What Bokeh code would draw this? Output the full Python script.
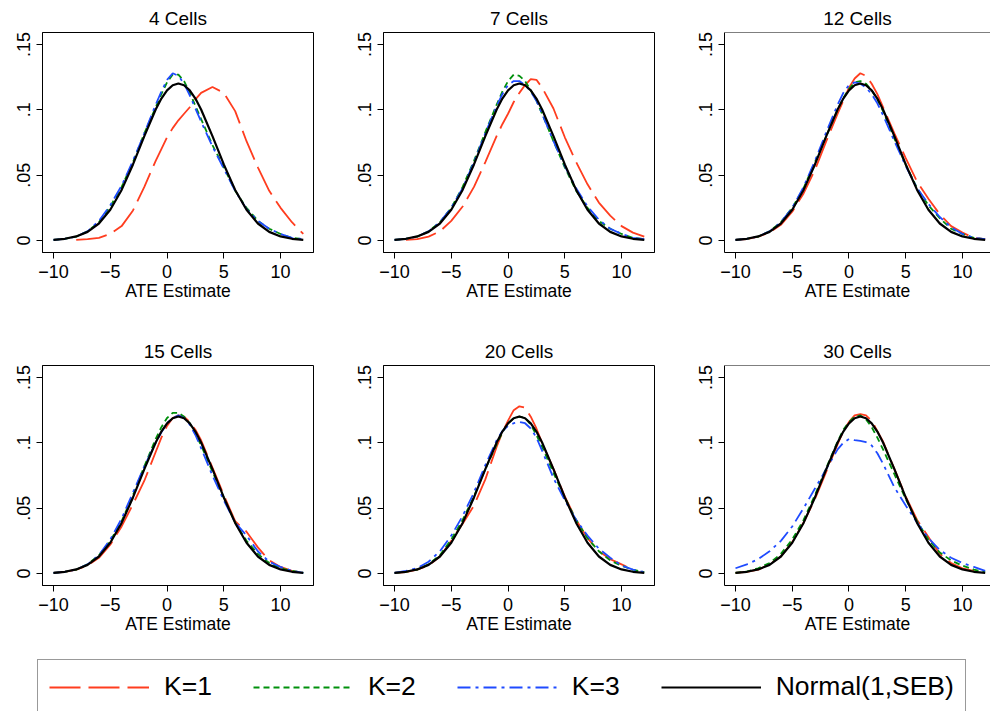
from bokeh.plotting import figure
from bokeh.layouts import column, row
from bokeh.models import (Range1d, FixedTicker, CustomJSTickFormatter, Span,
                          Legend, LegendItem)
from bokeh.embed import file_html
from bokeh.resources import INLINE

NaN = float("nan")

# ---- data ----
X = [-10, -9, -8, -7, -6, -5, -4, -3, -2, -1, -0.5, 0, 0.5, 1, 1.5, 2, 2.5, 3,
     4, 5, 6, 7, 8, 9, 10, 11, 12]

NORMAL = [0.0005, 0.0013, 0.0031, 0.0066, 0.0130, 0.0235, 0.0387, 0.0582, 0.0799,
          0.1003, 0.1086, 0.1149, 0.1188, 0.1202, 0.1188, 0.1149, 0.1086, 0.1003,
          0.0799, 0.0582, 0.0387, 0.0235, 0.0130, 0.0066, 0.0031, 0.0013, 0.0005]

TITLES = ["4 Cells", "7 Cells", "12 Cells", "15 Cells", "20 Cells", "30 Cells"]

K1_04 = [NaN, NaN, 0.0005, 0.001, 0.002, 0.005, 0.011, 0.023, 0.041, 0.061, 0.070,
         0.079, 0.086, 0.092, 0.097, 0.102, 0.108, 0.113, 0.1175, 0.113, 0.099,
         0.076, 0.056, 0.038, 0.025, 0.014, 0.005]
K2_04 = [0.0005, 0.0012, 0.003, 0.007, 0.014, 0.026, 0.041, 0.060, 0.082, 0.102,
         0.112, 0.121, 0.127, 0.127, 0.122, 0.113, 0.103, 0.093, 0.073, 0.056,
         0.038, 0.025, 0.015, 0.009, 0.005, 0.002, 0.001]
K3_04 = [0.0005, 0.0013, 0.003, 0.007, 0.015, 0.027, 0.042, 0.061, 0.082, 0.104,
         0.114, 0.123, 0.128, 0.126, 0.120, 0.111, 0.101, 0.091, 0.072, 0.055,
         0.038, 0.024, 0.015, 0.009, 0.005, 0.002, 0.001]

K1_07 = [NaN, 0.0005, 0.001, 0.003, 0.007, 0.015, 0.026, 0.041, 0.060, 0.080,
         0.089, 0.097, 0.106, 0.113, 0.119, 0.1235, 0.123, 0.117, 0.101, 0.079,
         0.060, 0.043, 0.029, 0.019, 0.011, 0.006, 0.003]
K2_07 = [0.0005, 0.0012, 0.003, 0.007, 0.014, 0.025, 0.041, 0.061, 0.083, 0.104,
         0.114, 0.122, 0.127, 0.126, 0.122, 0.115, 0.107, 0.097, 0.076, 0.056,
         0.038, 0.025, 0.015, 0.009, 0.005, 0.002, 0.001]
K3_07 = [0.0005, 0.0013, 0.003, 0.007, 0.014, 0.025, 0.040, 0.060, 0.082, 0.103,
         0.112, 0.119, 0.122, 0.122, 0.119, 0.114, 0.107, 0.097, 0.076, 0.057,
         0.040, 0.026, 0.016, 0.009, 0.005, 0.002, 0.001]

K1_12 = [0.0005, 0.001, 0.003, 0.006, 0.012, 0.022, 0.036, 0.054, 0.076, 0.097,
         0.107, 0.117, 0.124, 0.128, 0.126, 0.120, 0.112, 0.102, 0.082, 0.063,
         0.045, 0.032, 0.020, 0.011, 0.006, 0.002, 0.001]
K2_12 = [0.0005, 0.0013, 0.003, 0.007, 0.014, 0.025, 0.040, 0.060, 0.080, 0.100,
         0.109, 0.116, 0.121, 0.122, 0.120, 0.115, 0.108, 0.099, 0.078, 0.058,
         0.040, 0.027, 0.017, 0.009, 0.005, 0.002, 0.001]
K3_12 = [0.0005, 0.0013, 0.003, 0.007, 0.014, 0.025, 0.041, 0.061, 0.083, 0.104,
         0.113, 0.119, 0.121, 0.120, 0.117, 0.112, 0.105, 0.096, 0.076, 0.057,
         0.040, 0.028, 0.018, 0.010, 0.005, 0.002, 0.001]

K1_15 = [0.0005, 0.0012, 0.003, 0.006, 0.012, 0.022, 0.036, 0.053, 0.071, 0.093,
         0.104, 0.113, 0.119, 0.121, 0.120, 0.116, 0.110, 0.102, 0.081, 0.060,
         0.040, 0.032, 0.020, 0.010, 0.005, 0.002, 0.0005]
K2_15 = [0.0005, 0.0013, 0.003, 0.007, 0.014, 0.025, 0.040, 0.060, 0.082, 0.103,
         0.112, 0.119, 0.123, 0.123, 0.120, 0.115, 0.107, 0.098, 0.078, 0.058,
         0.039, 0.025, 0.015, 0.008, 0.004, 0.002, 0.0005]
K3_15 = [0.0005, 0.0013, 0.003, 0.007, 0.014, 0.026, 0.042, 0.062, 0.082, 0.100,
         0.108, 0.115, 0.119, 0.121, 0.119, 0.114, 0.106, 0.096, 0.075, 0.056,
         0.039, 0.029, 0.017, 0.009, 0.005, 0.002, 0.0005]

K1_20 = [0.0005, 0.001, 0.003, 0.006, 0.013, 0.025, 0.038, 0.052, 0.072, 0.097,
         0.108, 0.117, 0.125, 0.128, 0.127, 0.120, 0.111, 0.100, 0.080, 0.059,
         0.041, 0.027, 0.017, 0.011, 0.007, 0.003, NaN]
K2_20 = [0.0005, 0.0013, 0.003, 0.007, 0.014, 0.026, 0.041, 0.059, 0.080, 0.099,
         0.108, 0.115, 0.119, 0.120, 0.119, 0.114, 0.106, 0.097, 0.077, 0.058,
         0.041, 0.027, 0.017, 0.010, 0.006, 0.003, 0.001]
K3_20 = [0.0005, 0.002, 0.004, 0.009, 0.017, 0.029, 0.044, 0.062, 0.083, 0.102,
         0.109, 0.113, 0.115, 0.116, 0.115, 0.111, 0.104, 0.094, 0.073, 0.056,
         0.041, 0.029, 0.019, 0.012, 0.006, 0.003, 0.001]

K1_30 = [0.0005, 0.0013, 0.003, 0.007, 0.013, 0.024, 0.039, 0.057, 0.078, 0.099,
         0.109, 0.116, 0.121, 0.122, 0.121, 0.117, 0.109, 0.101, 0.080, 0.059,
         0.041, 0.028, 0.015, 0.008, 0.004, 0.002, 0.0005]
K2_30 = [0.0005, 0.0015, 0.004, 0.008, 0.015, 0.026, 0.041, 0.060, 0.081, 0.101,
         0.110, 0.116, 0.120, 0.121, 0.118, 0.112, 0.104, 0.095, 0.076, 0.057,
         0.040, 0.026, 0.016, 0.010, 0.006, 0.003, 0.001]
K3_30 = [0.004, 0.007, 0.011, 0.017, 0.025, 0.036, 0.050, 0.065, 0.080, 0.095,
         0.100, 0.103, 0.102, 0.1015, 0.1005, 0.098, 0.092, 0.084, 0.066, 0.052,
         0.039, 0.027, 0.018, 0.012, 0.008, 0.005, 0.002]

K1_ALL = [K1_04, K1_07, K1_12, K1_15, K1_20, K1_30]
K2_ALL = [K2_04, K2_07, K2_12, K2_15, K2_20, K2_30]
K3_ALL = [K3_04, K3_07, K3_12, K3_15, K3_20, K3_30]

X_TICKS = [-10, -5, 0, 5, 10]
Y_TICKS = [0, 0.05, 0.1, 0.15]
LEGEND_LABELS = ["K=1", "K=2", "K=3", "Normal(1,SEB)"]

# ---- style ----
FONT = "Liberation Sans"
RED, GREEN, BLUE, BLACK = "#ff3d1f", "#00900c", "#1f4bff", "#000000"
STYLES = [
    dict(line_color=RED, line_width=1.8, line_dash="31 8"),
    dict(line_color=GREEN, line_width=1.8, line_dash="6 4"),
    dict(line_color=BLUE, line_width=1.8, line_dash="13 5 3 5"),
    dict(line_color=BLACK, line_width=2.2),
]
Y_LO, Y_HI = -0.0092, 0.1592


def make_panel(i):
    c = i % 3
    r = i // 3
    last = (c == 2)
    p = figure(frame_width=266 if last else 271, frame_height=220,
               x_range=Range1d(-10.97, 12.47 if last else 12.9),
               y_range=Range1d(Y_LO, Y_HI),
               output_backend="svg", toolbar_location=None,
               min_border_left=42 if c == 0 else 34,
               min_border_right=0 if last else 36,
               min_border_top=32 if r == 0 else 31,
               min_border_bottom=82 if r == 0 else 60)
    p.grid.visible = False
    p.background_fill_color = "white"
    p.border_fill_color = "white"

    p.title.text = TITLES[i]
    p.title.align = "center"
    p.title.text_font = FONT
    p.title.text_font_size = "19px"
    p.title.text_font_style = "normal"
    p.title.standoff = 8
    p.title.text_color = "black"

    xa = p.xaxis[0]
    xa.ticker = FixedTicker(ticks=X_TICKS)
    xa.formatter = CustomJSTickFormatter(
        code="return tick < 0 ? '\u2212' + Math.abs(tick) : String(tick);")
    xa.axis_label = "ATE Estimate"
    ya = p.yaxis[0]
    ya.ticker = FixedTicker(ticks=Y_TICKS)
    ya.formatter = CustomJSTickFormatter(code="""
if (tick == 0) return '0';
var s = tick.toFixed(2).replace(/0+$/, '');
return s.replace(/^0/, '');
""")
    ya.major_label_orientation = "vertical"
    for ax in (xa, ya):
        ax.major_tick_out = 6
        ax.major_tick_in = 0
        ax.minor_tick_line_color = None
        ax.major_tick_line_color = "black"
        ax.axis_line_color = "black"
        ax.major_label_text_font = FONT
        ax.major_label_text_font_size = "18px"
        ax.major_label_text_color = "black"
    ya.major_label_standoff = 6
    xa.major_label_standoff = 6
    xa.axis_label_text_font = FONT
    xa.axis_label_text_font_size = "17.5px"
    xa.axis_label_text_font_style = "normal"
    xa.axis_label_text_color = "black"
    xa.axis_label_standoff = 0

    if last:
        p.outline_line_color = None
        p.add_layout(Span(location=Y_HI, dimension="width",
                          line_color="black", line_width=1))
    else:
        p.outline_line_color = "black"
        p.outline_line_width = 1
        p.outline_line_alpha = 1

    for ys, st in zip([K1_ALL[i], K2_ALL[i], K3_ALL[i], NORMAL], STYLES):
        p.line(X, ys, **st)
    return p


panels = [make_panel(i) for i in range(6)]

# ---- legend ----
lg = figure(width=990, height=66, output_backend="svg", toolbar_location=None,
            x_range=Range1d(0, 1), y_range=Range1d(0, 1),
            x_axis_location=None, y_axis_location=None, min_border=0)
lg.grid.visible = False
lg.outline_line_color = None
items = []
for lab, st in zip(LEGEND_LABELS, STYLES):
    st2 = dict(st)
    st2["line_width"] = 2
    rr = lg.line(x=[NaN], y=[NaN], **st2)
    items.append(LegendItem(label=lab, renderers=[rr]))
legend = Legend(items=items, orientation="horizontal", location=(37, -3),
                glyph_width=100, glyph_height=28, label_height=28, label_width=47,
                label_standoff=15, spacing=41, padding=11, margin=0,
                border_line_color="#333333", border_line_width=1,
                label_text_font=FONT, label_text_font_size="26.5px",
                label_text_color="black", background_fill_alpha=1)
lg.add_layout(legend, "center")

layout = column(row(*panels[:3]), row(*panels[3:]), lg)

open("out.html", "w").write(file_html(layout, INLINE))
